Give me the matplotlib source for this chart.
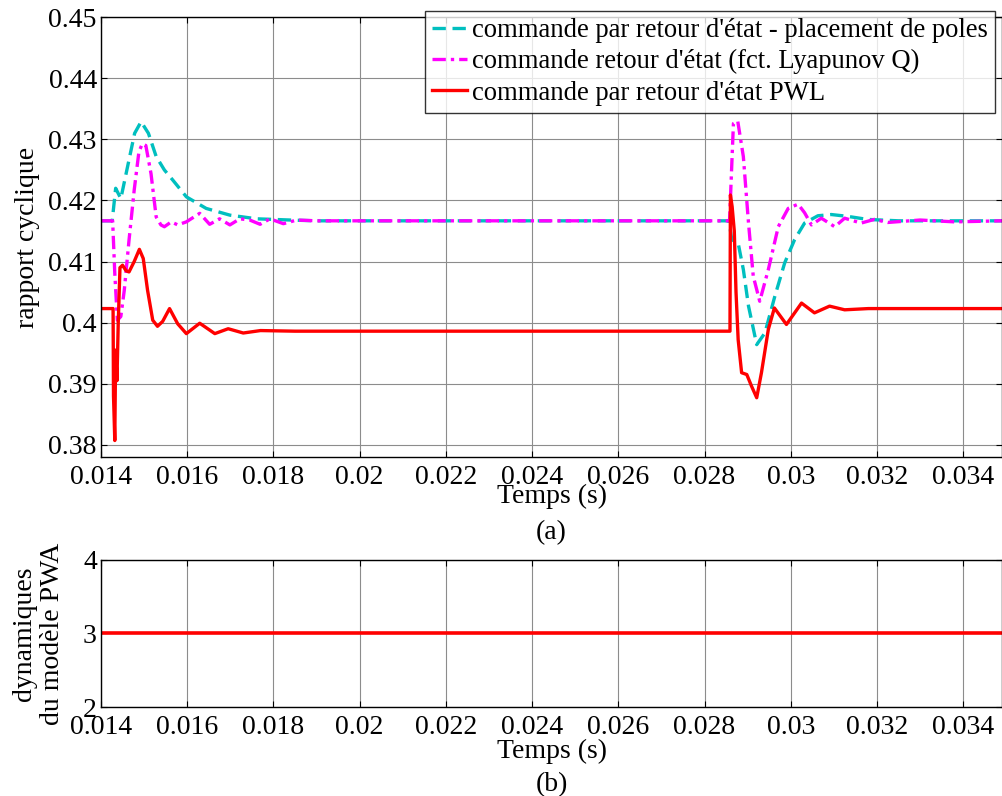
import matplotlib
matplotlib.use('Agg')
import matplotlib.pyplot as plt
import numpy as np

plt.rcParams['font.family'] = ['Liberation Serif', 'DejaVu Serif']

# commande par retour d'etat - placement de poles
t_cyan = [0.0140, 0.01426, 0.01434, 0.01446, 0.01460, 0.01478, 0.01493, 0.01510, 0.01528,
          0.01547, 0.01567, 0.01598, 0.01644, 0.01699, 0.01761, 0.01839, 0.0190, 0.02857,
          0.02863, 0.02878, 0.0289, 0.02902, 0.02921, 0.0294, 0.02963, 0.02986, 0.03009,
          0.03032, 0.03063, 0.03094, 0.03132, 0.03178, 0.0325, 0.0349]
u_cyan = [0.41667, 0.41667, 0.4220, 0.4203, 0.4250, 0.4310, 0.4329, 0.4310, 0.4272,
          0.4250, 0.4233, 0.4206, 0.4187, 0.4176, 0.4170, 0.4168, 0.41667, 0.41667,
          0.4136, 0.4130, 0.4087, 0.4027, 0.3964, 0.3983, 0.4043, 0.4098, 0.4136,
          0.4163, 0.4175, 0.4177, 0.4174, 0.4169, 0.41667, 0.41667]

# commande retour d'etat (fct. Lyapunov Q)
t_mag = [0.0140, 0.01427, 0.01432, 0.01438, 0.01446, 0.01454, 0.01465, 0.01477, 0.01488,
         0.01496, 0.01504, 0.01516, 0.01528, 0.01539, 0.01547, 0.01563, 0.01578, 0.01598,
         0.01629, 0.01652, 0.01675, 0.01699, 0.01722, 0.01745, 0.01769, 0.01792, 0.01823,
         0.01854, 0.0190, 0.02858, 0.02867, 0.02877, 0.0289, 0.02902, 0.02913, 0.02928,
         0.02948, 0.02971, 0.02994, 0.03017, 0.03032, 0.03048, 0.03071, 0.03102, 0.03125,
         0.03163, 0.03194, 0.03225, 0.0330, 0.0338, 0.0349]
u_mag = [0.41667, 0.41667, 0.4080, 0.4004, 0.4010, 0.4053, 0.4135, 0.4217, 0.4280,
         0.4293, 0.4290, 0.4244, 0.4173, 0.4160, 0.4157, 0.4165, 0.4160, 0.4165,
         0.4179, 0.4161, 0.4170, 0.4160, 0.4170, 0.4168, 0.4161, 0.4170, 0.4162,
         0.4168, 0.41667, 0.41667, 0.4326, 0.4330, 0.4272, 0.4163, 0.4076, 0.4035,
         0.4087, 0.4157, 0.4187, 0.4194, 0.4180, 0.4160, 0.4171, 0.4157, 0.4171,
         0.4163, 0.4169, 0.4164, 0.4168, 0.4165, 0.41667]

# commande par retour d'etat PWL
t_red = [0.0140, 0.01428, 0.01429, 0.01432, 0.01434, 0.01437, 0.01440, 0.01444, 0.01450,
         0.01458, 0.01465, 0.01477, 0.01489, 0.01498, 0.01508, 0.0152, 0.01531, 0.01543,
         0.01559, 0.01578, 0.01598, 0.01629, 0.01664, 0.01695, 0.0173, 0.0177, 0.0185,
         0.02859, 0.02860, 0.02864, 0.02869, 0.02873, 0.02878, 0.02886, 0.02898, 0.02909,
         0.02921, 0.02932, 0.02948, 0.02962, 0.0299, 0.03025, 0.03055, 0.0309, 0.03125,
         0.0318, 0.0349]
u_red = [0.4023, 0.4023, 0.3880, 0.3807, 0.3955, 0.3905, 0.4000, 0.4090, 0.4094,
         0.4085, 0.4083, 0.4100, 0.4120, 0.4105, 0.4053, 0.4004, 0.3994, 0.4002,
         0.4023, 0.3998, 0.3982, 0.3999, 0.3982, 0.3990, 0.3983, 0.3987, 0.3986,
         0.3986, 0.4209, 0.4190, 0.4150, 0.4050, 0.3972, 0.3918, 0.3915, 0.3896,
         0.3877, 0.3918, 0.3989, 0.4024, 0.3997, 0.4032, 0.4016, 0.4027, 0.4021,
         0.4023, 0.4023]

# dynamique active du modele PWA
t_dyn = [0.014, 0.0349]
dyn = [3, 3]

xticks = [0.014, 0.016, 0.018, 0.02, 0.022, 0.024, 0.026, 0.028, 0.03, 0.032, 0.034]
yticks_a = [0.38, 0.39, 0.40, 0.41, 0.42, 0.43, 0.44, 0.45]
yticks_b = [2, 3, 4]

labels = ["commande par retour d'état - placement de poles",
          "commande retour d'état (fct. Lyapunov Q)",
          "commande par retour d'état PWL"]

fs = 20
fig = plt.figure(figsize=(10.02, 7.96), dpi=100)
ax1 = fig.add_axes([0.1008, 0.4259, 0.8992, 0.5524])
ax2 = fig.add_axes([0.1008, 0.1118, 0.8992, 0.1847])


def style(ax, yt):
    ax.set_xlim(0.014, 0.0349)
    ax.set_xticks(xticks)
    ax.set_xticklabels(['%g' % v for v in xticks])
    ax.set_yticks(yt)
    ax.set_yticklabels(['%g' % v for v in yt])
    ax.grid(True, color='#8c8c8c', lw=0.8)
    ax.set_axisbelow(True)
    ax.tick_params(direction='in', length=4, labelsize=fs, top=True, right=True)
    ax.tick_params(axis='x', pad=6)
    ax.tick_params(axis='y', pad=3)
    for s in ax.spines.values():
        s.set_linewidth(1.0)


ax1.plot(t_cyan, u_cyan, color='#00bfbf', lw=2.4, dashes=(4, 2), label=labels[0])
ax1.plot(t_mag, u_mag, color='#ff00ff', lw=2.4, dashes=(4, 1.5, 1, 1.5), label=labels[1])
ax1.plot(t_red, u_red, color='#ff0000', lw=2.4, label=labels[2])
ax1.set_ylim(0.378, 0.45)
style(ax1, yticks_a)
ax1.set_ylabel('rapport cyclique', fontsize=fs, labelpad=6)
ax1.set_xlabel('Temps (s)\n(a)', fontsize=fs, labelpad=-5, linespacing=1.6)

leg = ax1.legend(loc='upper left', bbox_to_anchor=(0.4242, 0.9866),
                 bbox_transform=fig.transFigure, fontsize=19.2, frameon=True,
                 fancybox=False, handlelength=1.3, handletextpad=0.18,
                 borderpad=0.27, labelspacing=0.24, borderaxespad=0)
leg.get_frame().set_edgecolor('black')
leg.get_frame().set_linewidth(1.0)

ax2.plot(t_dyn, dyn, color='#ff0000', lw=2.6)
ax2.set_ylim(2, 4)
style(ax2, yticks_b)
ax2.set_ylabel('dynamiques\ndu modèle PWA', fontsize=fs, labelpad=13, linespacing=1.15)
ax2.set_xlabel('Temps (s)\n(b)', fontsize=fs, labelpad=-1, linespacing=1.4)

fig.savefig('out.png', dpi=100)
